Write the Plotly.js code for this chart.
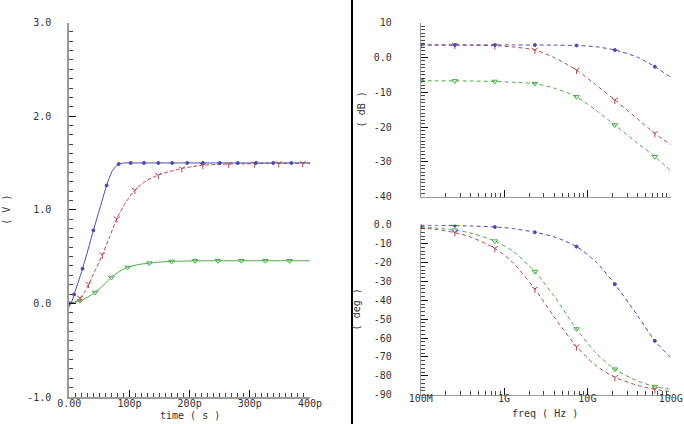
<!DOCTYPE html>
<html><head><meta charset="utf-8">
<script src="https://cdn.plot.ly/plotly-3.0.1.min.js"></script>
<style>html,body{margin:0;padding:0;background:#fff}#chart{width:684px;height:424px}</style>
</head><body><div id="chart"></div>
<script>
// ---------- transient (left) ----------
const tBlue  = [0,4,8,15,22,31,40,51,62,72,82,92,102,113,124,136,148,160,171,184,196,209,222,236,250,265,280,295,310,325,339,354,369,385,400];
const vBlue  = [0,0.02,0.096,0.23,0.37,0.57,0.78,1.02,1.26,1.42,1.488,1.5,1.5,1.5,1.5,1.5,1.5,1.5,1.5,1.5,1.5,1.5,1.5,1.5,1.5,1.5,1.5,1.5,1.5,1.5,1.5,1.5,1.5,1.5,1.5];
const tRed   = [0,9,18,25,32,43,55,67,79,94,109,128,148,167,187,204,222,243,265,286,308,328,348,368,388,400];
const vRed   = [0,0.015,0.057,0.12,0.206,0.35,0.52,0.71,0.904,1.08,1.21,1.31,1.37,1.41,1.44,1.46,1.476,1.483,1.488,1.49,1.492,1.494,1.495,1.496,1.497,1.497];
const tGreen = [0,9,18,30,43,56,70,83,97,115,133,151,170,190,209,228,247,266,286,306,326,346,366,383,400];
const vGreen = [0,0.01,0.03,0.065,0.117,0.19,0.277,0.34,0.384,0.415,0.43,0.442,0.448,0.452,0.454,0.455,0.455,0.455,0.455,0.455,0.455,0.455,0.455,0.455,0.455];
const timeTickVals = [0,100,200,300,400];
const timeTickText = ["0.00","100p","200p","300p","400p"];
const voltTickVals = [-1,0,1,2,3];
const voltTickText = ["-1.0","0.0","1.0","2.0","3.0"];

// ---------- AC (right) ----------
const freqGHz  = [0.1,0.158,0.257,0.398,0.776,1.259,2.344,3.981,7.413,12.59,21.38,39.81,64.57,100];
const magBlue  = [3.6,3.6,3.6,3.6,3.6,3.6,3.58,3.55,3.45,3.1,2.15,0.1,-2.64,-5.7];
const magRed   = [3.6,3.6,3.57,3.53,3.4,3.05,2.15,0.0,-3.6,-7.8,-12.2,-17.6,-21.8,-25.1];
const magGreen = [-6.7,-6.7,-6.72,-6.76,-6.9,-7.1,-7.5,-8.8,-11.3,-15.1,-19.4,-24.6,-28.5,-32.5];
const phBlue   = [-0.2,-0.3,-0.5,-0.7,-1.2,-2.0,-4.0,-6.4,-11.6,-19.5,-31.5,-48,-61.5,-70.3];
const phRed    = [-1.6,-2.6,-4.2,-6.5,-12.5,-19.8,-34,-48.7,-64.5,-74.5,-80.8,-85,-87.2,-88.3];
const phGreen  = [-1.1,-1.8,-2.9,-4.4,-8.7,-13.8,-24.8,-37.8,-55.2,-67.8,-76.5,-82.7,-85.7,-87.1];
const freqTickVals = [0.1,1,10,100];
const freqTickText = ["100M","1G","10G","100G"];
const dbTickVals = [-40,-30,-20,-10,0,10];
const dbTickText = ["-40","-30","-20","-10","0.0","10"];
const degTickVals = [-90,-80,-70,-60,-50,-40,-30,-20,-10,0];
const degTickText = ["-90","-80","-70","-60","-50","-40","-30","-20","-10","0.0"];

const W = 684, H = 424;
const BLUE = '#4a4ab4', RED = '#b04a4a', GREEN = '#4aaa4a';
const FONT = {family:'DejaVu Sans Mono, monospace', size:10, color:'#333'};

function dx(a,b){return [a/W, b/W];}
function dy(top,bot){return [(H-bot)/H, (H-top)/H];}

// evenly spaced minor tick positions on a linear axis
function linMinor(lo,hi,step){const out=[];const n=Math.round((hi-lo)/step);for(let i=0;i<=n;i++)out.push(+(lo+i*step).toFixed(6));return out;}
// 2..9 x decade minor ticks on a log axis
function logMinor(decades){const out=[];decades.forEach(d=>{for(let k=2;k<=9;k++)out.push(d*k);});return out;}

function lineTrace(x,y,color,dash,xa,ya){
  return {x:x,y:y,mode:'lines',xaxis:xa,yaxis:ya,hoverinfo:'skip',
    line:{color:color,width:1,dash:dash,shape:'spline',smoothing:0.7}};
}
function markTrace(x,y,color,symbol,size,xa,ya){
  const keep = (_, i) => i % 2 === 0 && i < x.length - 1;
  return {x:x.filter(keep),y:y.filter(keep),mode:'markers',xaxis:xa,yaxis:ya,hoverinfo:'skip',
    marker:{color:color,symbol:symbol,size:size,line:{color:color,width:1}}};
}

const traces = [
  lineTrace(tGreen,vGreen,GREEN,'solid','x','y'),
  lineTrace(tRed,vRed,RED,'4px,2px','x','y'),
  lineTrace(tBlue,vBlue,BLUE,'solid','x','y'),
  markTrace(tGreen,vGreen,GREEN,'triangle-down-open',5,'x','y'),
  markTrace(tRed,vRed,RED,'y-down-open',5,'x','y'),
  markTrace(tBlue,vBlue,BLUE,'circle',3,'x','y'),

  lineTrace(freqGHz,magGreen,GREEN,'4px,3px','x2','y2'),
  lineTrace(freqGHz,magRed,RED,'4px,3px','x2','y2'),
  lineTrace(freqGHz,magBlue,BLUE,'4px,3px','x2','y2'),
  markTrace(freqGHz,magGreen,GREEN,'triangle-down-open',5,'x2','y2'),
  markTrace(freqGHz,magRed,RED,'y-down-open',5,'x2','y2'),
  markTrace(freqGHz,magBlue,BLUE,'circle',3,'x2','y2'),

  lineTrace(freqGHz,phGreen,GREEN,'4px,3px','x3','y3'),
  lineTrace(freqGHz,phRed,RED,'4px,3px','x3','y3'),
  lineTrace(freqGHz,phBlue,BLUE,'4px,3px','x3','y3'),
  markTrace(freqGHz,phGreen,GREEN,'triangle-down-open',5,'x3','y3'),
  markTrace(freqGHz,phRed,RED,'y-down-open',5,'x3','y3'),
  markTrace(freqGHz,phBlue,BLUE,'circle',3,'x3','y3')
];

function minor(vals){return {tickmode:'array',tickvals:vals,ticks:'inside',ticklen:4,tickcolor:'#444',tickwidth:1};}
const axBase = {showgrid:false,zeroline:false,showline:true,linecolor:'#9a9a9a',linewidth:2,
  ticks:'inside',ticklen:7,tickwidth:1,tickcolor:'#111',tickfont:FONT,mirror:false,fixedrange:true};

const layout = {
  width:W,height:H,margin:{l:0,r:0,t:0,b:0},paper_bgcolor:'#fff',plot_bgcolor:'#fff',
  showlegend:false,font:FONT,
  xaxis:Object.assign({},axBase,{domain:dx(69.3,310),range:[0,400],anchor:'y',
    tickmode:'array',tickvals:timeTickVals,ticktext:timeTickText,ticklabelstandoff:-4,
    minor:minor(linMinor(0,400,10))}),
  yaxis:Object.assign({},axBase,{domain:dy(22.5,397),range:[-1,3],anchor:'x',
    tickmode:'array',tickvals:voltTickVals,ticktext:voltTickText,ticklabelstandoff:14,
    minor:minor(linMinor(-1,3,0.1))}),
  xaxis2:Object.assign({},axBase,{domain:dx(420.7,670.7),type:'log',range:[-1,2],anchor:'y2',
    tickmode:'array',tickvals:freqTickVals,showticklabels:false,linewidth:1,
    minor:minor(logMinor([0.1,1,10]))}),
  yaxis2:Object.assign({},axBase,{domain:dy(22.7,196.7),range:[-40,10],anchor:'x2',linewidth:1,
    tickmode:'array',tickvals:dbTickVals,ticktext:dbTickText,ticklabelstandoff:26,
    minor:minor(linMinor(-40,10,1))}),
  xaxis3:Object.assign({},axBase,{domain:dx(420.7,670.7),type:'log',range:[-1,2],anchor:'y3',linewidth:1,
    tickmode:'array',tickvals:freqTickVals,ticktext:freqTickText,ticklabelstandoff:-6,
    minor:minor(logMinor([0.1,1,10]))}),
  yaxis3:Object.assign({},axBase,{domain:dy(224.7,394.7),range:[-90,0],anchor:'x3',linewidth:1,
    tickmode:'array',tickvals:degTickVals,ticktext:degTickText,ticklabelstandoff:26,
    minor:minor(linMinor(-90,0,2))}),
  shapes:[{type:'line',xref:'paper',yref:'paper',x0:352/W,x1:352/W,y0:0,y1:1,line:{color:'#000',width:2}}],
  annotations:[
    {text:'time ( s )',xref:'paper',yref:'paper',x:189.6/W,y:(H-415)/H,showarrow:false,font:FONT,xanchor:'center',yanchor:'middle'},
    {text:'( V )',xref:'paper',yref:'paper',x:7/W,y:(H-209.7)/H,showarrow:false,font:FONT,textangle:-90,xanchor:'center',yanchor:'middle'},
    {text:'( dB )',xref:'paper',yref:'paper',x:361.7/W,y:(H-109.7)/H,showarrow:false,font:FONT,textangle:-90,xanchor:'center',yanchor:'middle'},
    {text:'( deg )',xref:'paper',yref:'paper',x:356.7/W,y:(H-309.7)/H,showarrow:false,font:FONT,textangle:-90,xanchor:'center',yanchor:'middle'},
    {text:'freq ( Hz )',xref:'paper',yref:'paper',x:545/W,y:(H-413)/H,showarrow:false,font:FONT,xanchor:'center',yanchor:'middle'}
  ]
};

Plotly.newPlot('chart',traces,layout,{staticPlot:true,displayModeBar:false});
</script>
</body></html>
